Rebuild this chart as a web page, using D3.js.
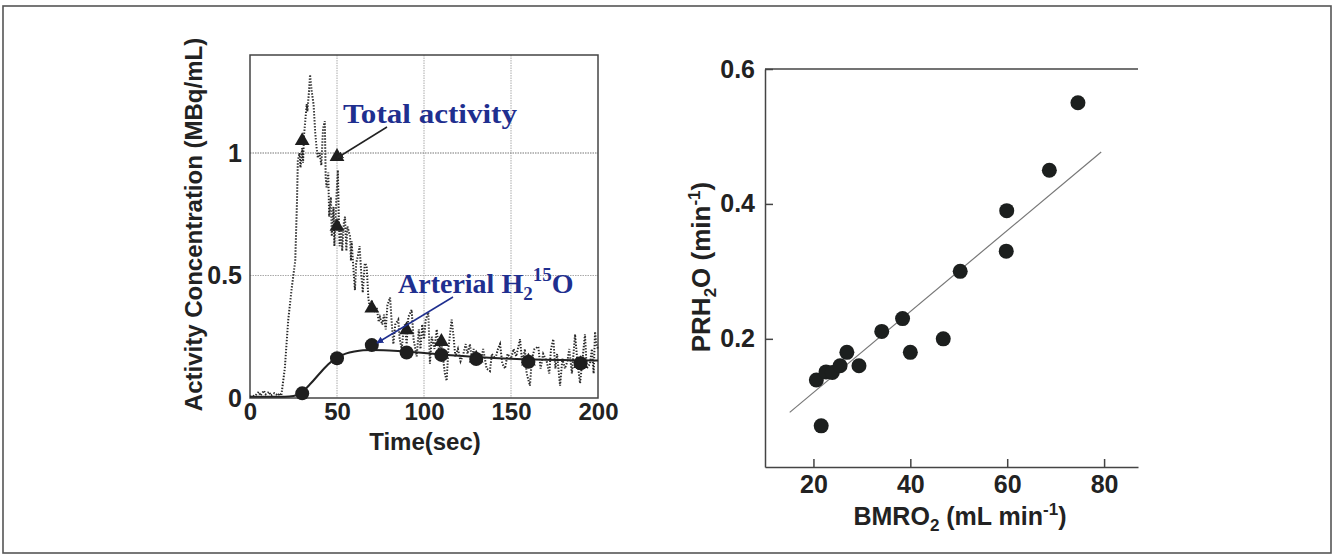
<!DOCTYPE html>
<html><head><meta charset="utf-8">
<script src="https://cdn.jsdelivr.net/npm/d3@7"></script>
<style>
html,body{margin:0;padding:0;background:#fff;}
svg{display:block;}
.tick text{font-family:"Liberation Sans",Arial,sans-serif;font-weight:bold;fill:#222;}
</style></head>
<body>
<svg id="c" width="1334" height="557"></svg>
<script>
// ---------- Left panel data ----------
const xTicksL = [0, 50, 100, 150, 200];
const yTicksL = [0, 0.5, 1];
const yTickLabelsL = ["0", "0.5", "1"];
const totalTime = [0,3,5,6,8,9,11,12,14,16,17,18,20,22,24,26,27,27.5,28.5,29,30,30.5,31,32,32.6,33,34,34.5,35.5,36.5,37.5,38.3,39,40,41,42,43,43.5,44,45,45.5,46.5,47,48,48.5,49.5,50.5,51,51.5,52.5,53,54,54.6,55.4,56,57.5,58,58.4,59.5,60.3,61,62,63,64,64.8,66,67,68,69,70,71,72.8,74,74.7,76,77,78,79,80.5,81.5,82.4,83.5,85.2,86,87.2,88,89,90,91,92.9,94,95.8,97,98,99,100,101,102.5,103.4,104.5,106,107.3,108.5,110,111,112,113,114,115.9,117,118,119.5,121,122.6,124,125,126.4,127.5,128.5,130,131,132.5,134,136,137.9,139,141,142.5,143.7,145,146.6,148,150,151.5,153,155.2,156.5,158,159,160.9,162,163.5,165.7,167,168.5,170.5,172,173,174.3,175.5,176.5,178.2,179.5,181,182.4,183.5,185,186.8,188,189.7,191,192.5,193.5,195.4,196.5,197.5,198.3,199,200];
const totalValue = [0.005,0.01,0.025,0.01,0.03,0.015,0.025,0.01,0.02,0.01,0.02,0.01,0.12,0.32,0.45,0.56,0.8,0.97,1.0,0.94,1.02,0.96,1.07,1.15,1.2,1.17,1.26,1.32,1.25,1.2,1.08,1.02,0.98,1.0,0.95,1.1,1.13,0.9,0.86,0.92,0.74,0.82,0.66,0.78,0.62,0.8,0.93,0.75,0.62,0.7,0.6,0.72,0.74,0.6,0.7,0.66,0.56,0.64,0.52,0.44,0.55,0.58,0.62,0.5,0.43,0.55,0.54,0.41,0.36,0.4,0.35,0.37,0.31,0.33,0.3,0.34,0.28,0.38,0.41,0.3,0.22,0.3,0.32,0.24,0.2,0.26,0.3,0.22,0.33,0.36,0.24,0.17,0.28,0.2,0.3,0.24,0.32,0.35,0.14,0.25,0.2,0.28,0.2,0.22,0.16,0.1,0.07,0.2,0.32,0.25,0.17,0.2,0.15,0.18,0.22,0.18,0.22,0.16,0.2,0.15,0.18,0.14,0.2,0.12,0.11,0.18,0.16,0.2,0.22,0.14,0.12,0.18,0.16,0.2,0.17,0.24,0.14,0.2,0.1,0.05,0.16,0.2,0.21,0.12,0.18,0.15,0.1,0.2,0.24,0.12,0.18,0.05,0.16,0.12,0.15,0.2,0.1,0.26,0.16,0.06,0.15,0.26,0.12,0.14,0.2,0.1,0.27,0.22,0.2];
const triTime = [30, 50, 50, 70, 90, 110, 130, 160, 190];
const triValue = [1.05, 0.985, 0.70, 0.366, 0.278, 0.23, 0.162, 0.15, 0.14];
const dotTime = [30, 50, 70, 90, 110, 130, 160, 190];
const dotValue = [0.019, 0.162, 0.216, 0.186, 0.176, 0.159, 0.148, 0.142];
const fitTime = [0, 20, 25, 30, 35, 40, 45, 50, 55, 60, 65, 70, 80, 90, 100, 110, 120, 130, 140, 150, 160, 170, 180, 190, 200];
const fitValue = [0.005, 0.005, 0.008, 0.025, 0.06, 0.10, 0.138, 0.165, 0.181, 0.19, 0.195, 0.196, 0.194, 0.19, 0.184, 0.178, 0.172, 0.167, 0.163, 0.16, 0.158, 0.156, 0.155, 0.154, 0.153];

// ---------- Right panel data ----------
const xTicksR = [20, 40, 60, 80];
const yTicksR = [0.2, 0.4, 0.6];
const bmro2 = [20.6, 22.6, 23.9, 25.5, 26.9, 29.4, 21.6, 34.1, 38.4, 40.0, 46.8, 50.3, 59.8, 59.9, 68.7, 74.6];
const prh2o = [0.139, 0.151, 0.150, 0.160, 0.180, 0.160, 0.071, 0.211, 0.230, 0.180, 0.200, 0.300, 0.330, 0.390, 0.450, 0.550];
const fitX = [15.1, 79.4];
const fitY = [0.091, 0.477];

const svg = d3.select("#c");
const FONT = '"Liberation Sans",Arial,sans-serif';
const SERIF = '"Liberation Serif","Times New Roman",serif';
const BLUE = "#1f2f8f";

// outer frame
svg.append("rect").attr("x", 3).attr("y", 6).attr("width", 1328).attr("height", 547)
  .attr("fill", "none").attr("stroke", "#555").attr("stroke-width", 1.6);

const defs = svg.append("defs");
function marker(id, color) {
  defs.append("marker").attr("id", id).attr("viewBox", "0 0 10 10").attr("refX", 9).attr("refY", 5)
    .attr("markerWidth", 7).attr("markerHeight", 7).attr("orient", "auto-start-reverse")
    .attr("markerUnits", "userSpaceOnUse")
    .append("path").attr("d", "M0,0 L10,5 L0,10 z").attr("fill", color);
}
marker("arrK", "#222");
marker("arrB", BLUE);

// ================= LEFT PANEL =================
const xL = d3.scaleLinear().domain([0, 200]).range([250, 598]);
const yL = d3.scaleLinear().domain([0, 1.4]).range([398, 55]);
const gL = svg.append("g");

// grid
gL.append("g").selectAll("line.gx").data(xTicksL.filter(d => d > 0 && d < 200)).join("line")
  .attr("x1", d => xL(d)).attr("x2", d => xL(d)).attr("y1", yL(1.4)).attr("y2", yL(0))
  .attr("stroke", "#aaa").attr("stroke-width", 1).attr("stroke-dasharray", "1.5,1");
gL.append("g").selectAll("line.gy").data(yTicksL.filter(d => d > 0)).join("line")
  .attr("y1", d => yL(d)).attr("y2", d => yL(d)).attr("x1", xL(0)).attr("x2", xL(200))
  .attr("stroke", d => d === 1 ? "#777" : "#aaa").attr("stroke-width", 1.2).attr("stroke-dasharray", "1.5,1");

// axes
const axBL = gL.append("g").attr("transform", `translate(0,${yL(0)})`)
  .call(d3.axisBottom(xL).tickValues(xTicksL).tickSize(0).tickPadding(5));
axBL.select(".domain").remove();
axBL.selectAll("text").attr("font-size", 24);
const axLL = gL.append("g").attr("transform", `translate(${xL(0)},0)`)
  .call(d3.axisLeft(yL).tickValues(yTicksL).tickFormat((d, i) => yTickLabelsL[i]).tickSize(0).tickPadding(8));
axLL.select(".domain").remove();
axLL.selectAll("text").attr("font-size", 25);

// frame
gL.append("rect").attr("x", xL(0)).attr("y", yL(1.4)).attr("width", xL(200) - xL(0)).attr("height", yL(0) - yL(1.4))
  .attr("fill", "none").attr("stroke", "#444").attr("stroke-width", 1.5);

// total activity trace (dotted)
const totalData = totalTime.map((t, i) => ({ t, v: totalValue[i] }));
gL.append("path").datum(totalData)
  .attr("d", d3.line().x(d => xL(d.t)).y(d => yL(d.v)))
  .attr("fill", "none").attr("stroke", "#2a2a2a").attr("stroke-width", 2).attr("stroke-dasharray", "1.4,1.6");

// fit curve
const fitData = fitTime.map((t, i) => ({ t, v: fitValue[i] }));
gL.append("path").datum(fitData)
  .attr("d", d3.line().curve(d3.curveMonotoneX).x(d => xL(d.t)).y(d => yL(d.v)))
  .attr("fill", "none").attr("stroke", "#222").attr("stroke-width", 2);

// circles
gL.append("g").selectAll("circle").data(dotTime.map((t, i) => ({ t, v: dotValue[i] }))).join("circle")
  .attr("cx", d => xL(d.t)).attr("cy", d => yL(d.v)).attr("r", 7).attr("fill", "#1e1e1e");
// triangles
gL.append("g").selectAll("path").data(triTime.map((t, i) => ({ t, v: triValue[i] }))).join("path")
  .attr("transform", d => `translate(${xL(d.t)},${yL(d.v)})`)
  .attr("d", d3.symbol().type(d3.symbolTriangle).size(95)).attr("fill", "#1e1e1e");

// annotations
gL.append("text").attr("x", 343).attr("y", 123).attr("font-family", SERIF).attr("font-weight", "bold")
  .attr("font-size", 28).attr("fill", BLUE).attr("textLength", 174).attr("lengthAdjust", "spacingAndGlyphs")
  .text("Total activity");
gL.append("line").attr("x1", 387).attr("y1", 127).attr("x2", 337).attr("y2", 158)
  .attr("stroke", "#222").attr("stroke-width", 1.5).attr("marker-end", "url(#arrK)");

const art = gL.append("text").attr("x", 398).attr("y", 293).attr("font-family", SERIF).attr("font-weight", "bold")
  .attr("font-size", 28).attr("fill", BLUE);
art.append("tspan").text("Arterial H");
art.append("tspan").attr("font-size", 19).attr("dy", 7).text("2");
art.append("tspan").attr("font-size", 19).attr("dy", -19).text("15");
art.append("tspan").attr("dy", 12).text("O");
gL.append("line").attr("x1", 453).attr("y1", 297).attr("x2", 377).attr("y2", 343)
  .attr("stroke", BLUE).attr("stroke-width", 1.5).attr("marker-end", "url(#arrB)");

// axis titles
gL.append("text").attr("transform", `translate(202,${(yL(0) + yL(1.4)) / 2 - 2}) rotate(-90)`)
  .attr("text-anchor", "middle").attr("font-family", FONT).attr("font-weight", "bold").attr("font-size", 24)
  .attr("fill", "#222").text("Activity Concentration (MBq/mL)");
gL.append("text").attr("x", 425).attr("y", 450).attr("text-anchor", "middle")
  .attr("font-family", FONT).attr("font-weight", "bold").attr("font-size", 24).attr("fill", "#222").text("Time(sec)");

// ================= RIGHT PANEL =================
const xR = d3.scaleLinear().domain([10, 87]).range([765, 1138]);
const yR = d3.scaleLinear().domain([0.01, 0.6]).range([467, 69]);
const gR = svg.append("g");

const axBR = gR.append("g").attr("transform", `translate(0,${yR(0.01)})`)
  .call(d3.axisBottom(xR).tickValues(xTicksR).tickSize(-8).tickPadding(8).tickSizeOuter(0));
axBR.select(".domain").attr("stroke", "#444").attr("stroke-width", 1.5);
axBR.selectAll(".tick line").attr("stroke", "#444").attr("stroke-width", 1.5);
axBR.selectAll("text").attr("font-size", 25);

const axLR = gR.append("g").attr("transform", `translate(${xR(10)},0)`)
  .call(d3.axisLeft(yR).tickValues(yTicksR).tickFormat(d3.format(".1f")).tickSize(-8).tickPadding(10).tickSizeOuter(0));
axLR.select(".domain").attr("stroke", "#444").attr("stroke-width", 1.5);
axLR.selectAll(".tick line").attr("stroke", "#444").attr("stroke-width", 1.5);
axLR.selectAll("text").attr("font-size", 25);

// top line
gR.append("line").attr("x1", xR(10)).attr("x2", xR(87)).attr("y1", yR(0.6)).attr("y2", yR(0.6))
  .attr("stroke", "#444").attr("stroke-width", 1.5);

// regression line
gR.append("line").attr("x1", xR(fitX[0])).attr("y1", yR(fitY[0])).attr("x2", xR(fitX[1])).attr("y2", yR(fitY[1]))
  .attr("stroke", "#777").attr("stroke-width", 1.2);

gR.append("g").selectAll("circle").data(bmro2.map((x, i) => ({ x, y: prh2o[i] }))).join("circle")
  .attr("cx", d => xR(d.x)).attr("cy", d => yR(d.y)).attr("r", 7.5).attr("fill", "#1c1f1e");

// axis titles
const yt = gR.append("text").attr("transform", `translate(710,${267}) rotate(-90)`)
  .attr("text-anchor", "middle").attr("font-family", FONT).attr("font-weight", "bold").attr("font-size", 26).attr("fill", "#222");
yt.append("tspan").text("PRH");
yt.append("tspan").attr("font-size", 17).attr("dy", 6).text("2");
yt.append("tspan").attr("dy", -6).text("O (min");
yt.append("tspan").attr("font-size", 17).attr("dy", -10).text("-1");
yt.append("tspan").attr("dy", 10).text(")");

const xt = gR.append("text").attr("x", 960).attr("y", 525).attr("text-anchor", "middle")
  .attr("font-family", FONT).attr("font-weight", "bold").attr("font-size", 25).attr("fill", "#222");
xt.append("tspan").text("BMRO");
xt.append("tspan").attr("font-size", 17).attr("dy", 6).text("2");
xt.append("tspan").attr("dy", -6).text(" (mL min");
xt.append("tspan").attr("font-size", 17).attr("dy", -10).text("-1");
xt.append("tspan").attr("dy", 10).text(")");
</script>
</body></html>
